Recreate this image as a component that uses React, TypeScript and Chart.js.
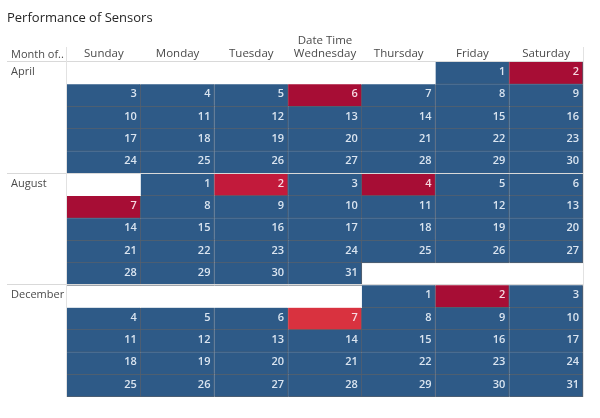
import { useEffect, useRef } from "react";
import { Chart, registerables } from "chart.js";

Chart.register(...registerables);

const chartTitle = "Performance of Sensors";
const columnTitle = "Date Time";
const rowHeader = "Month of..";
const weekdays = ["Sunday", "Monday", "Tuesday", "Wednesday", "Thursday", "Friday", "Saturday"];
const months = ["April", "August", "December"];
const monthStartWeekday = [5, 1, 4];
const monthDays = [30, 31, 31];
const flaggedDays = [[2, 6], [2, 4, 7], [2, 7]];
const flaggedSeverity = [[3, 3], [2, 3, 3], [3, 1]];

const FONT = "'Open Sans', 'DejaVu Sans', sans-serif";
const palette = ["#2e5a87", "#d9323f", "#c21a3b", "#a70d35"];

type Cell = { x: string; y: [number, number]; day: number; severity: number };

function buildCells() {
  const cells: Cell[] = [];
  const monthRowStart: number[] = [];
  let rowOffset = 0;
  months.forEach((_, m) => {
    monthRowStart.push(rowOffset);
    const start = monthStartWeekday[m];
    for (let d = 1; d <= monthDays[m]; d++) {
      const idx = start + d - 1;
      const row = rowOffset + Math.floor(idx / 7);
      const col = idx % 7;
      const fi = flaggedDays[m].indexOf(d);
      cells.push({ x: weekdays[col], y: [row, row + 1], day: d, severity: fi >= 0 ? flaggedSeverity[m][fi] : 0 });
    }
    rowOffset += Math.ceil((start + monthDays[m]) / 7);
  });
  return { cells, monthRowStart, totalRows: rowOffset };
}

export default function App() {
  const ref = useRef<HTMLCanvasElement | null>(null);

  useEffect(() => {
    if (!ref.current) return;
    const { cells, monthRowStart, totalRows } = buildCells();

    const overlay = {
      id: "overlay",
      afterDatasetsDraw(chart: any) {
        const ctx = chart.ctx as CanvasRenderingContext2D;
        const area = chart.chartArea;
        const yScale = chart.scales.y;
        const meta = chart.getDatasetMeta(0);
        ctx.save();
        // numbers
        ctx.font = `600 11px ${FONT}`;
        ctx.textAlign = "right";
        ctx.textBaseline = "alphabetic";
        meta.data.forEach((el: any, i: number) => {
          const p = el.getProps(["x", "y", "base", "width"], true);
          const top = Math.min(p.y, p.base);
          const right = p.x + p.width / 2;
          ctx.fillStyle = cells[i].severity ? "rgba(250,228,234,0.95)" : "rgba(228,236,246,0.95)";
          ctx.fillText(String(cells[i].day), right - 4, top + 13);
        });
        // lines
        ctx.lineWidth = 1;
        ctx.strokeStyle = "#d9d9d9";
        const hline = (y: number) => {
          ctx.beginPath();
          ctx.moveTo(7, Math.round(y) + 0.5);
          ctx.lineTo(area.right, Math.round(y) + 0.5);
          ctx.stroke();
        };
        hline(area.top - 1);
        monthRowStart.slice(1).forEach((r) => hline(yScale.getPixelForValue(r) - 1));
        ctx.strokeStyle = "#e2e2e2";
        [area.left - 1, area.right].forEach((x) => {
          ctx.beginPath();
          ctx.moveTo(Math.round(x) + 0.5, 47);
          ctx.lineTo(Math.round(x) + 0.5, yScale.getPixelForValue(totalRows));
          ctx.stroke();
        });
        // texts
        ctx.textAlign = "left";
        ctx.fillStyle = "#262626";
        ctx.font = `13px ${FONT}`;
        ctx.fillText(chartTitle, 7, 21.5);
        ctx.fillStyle = "#4a4a4a";
        ctx.font = `11px ${FONT}`;
        ctx.fillText(rowHeader, 11, 57.5);
        months.forEach((name, m) => {
          ctx.fillText(name, 11, yScale.getPixelForValue(monthRowStart[m]) + 13);
        });
        ctx.restore();
      },
    };

    const chart = new Chart(ref.current, {
      type: "bar",
      data: {
        labels: weekdays,
        datasets: [
          {
            data: cells as any,
            backgroundColor: (c: any) => palette[(c.raw as Cell)?.severity ?? 0],
            borderColor: "#56606d",
            borderWidth: { top: 0, left: 0, right: 1, bottom: 1 } as any,
            borderSkipped: false,
            categoryPercentage: 1,
            barPercentage: 1,
          },
        ],
      },
      options: {
        animation: false,
        responsive: true,
        maintainAspectRatio: false,
        layout: { padding: { left: 67, right: 17, top: 22, bottom: 21 } },
        plugins: { legend: { display: false }, tooltip: { enabled: false } },
        scales: {
          x: {
            type: "category",
            position: "top",
            offset: true,
            grid: { display: false, drawTicks: false },
            border: { display: false },
            ticks: { color: "#4a4a4a", font: { family: FONT, size: 11.5 }, padding: 1, maxRotation: 0, autoSkip: false },
            title: { display: true, text: columnTitle, color: "#4a4a4a", font: { family: FONT, size: 11.5 }, padding: { top: 12, bottom: 0 } },
            afterFit: (scale: any) => {
              scale.height = 40;
            },
          },
          y: { type: "linear", min: 0, max: totalRows, reverse: true, display: false },
        },
      },
      plugins: [overlay],
    });
    return () => chart.destroy();
  }, []);

  return (
    <div style={{ position: "absolute", left: 0, top: 0, width: 600, height: 418, background: "#fff" }}>
      <canvas ref={ref} />
    </div>
  );
}
